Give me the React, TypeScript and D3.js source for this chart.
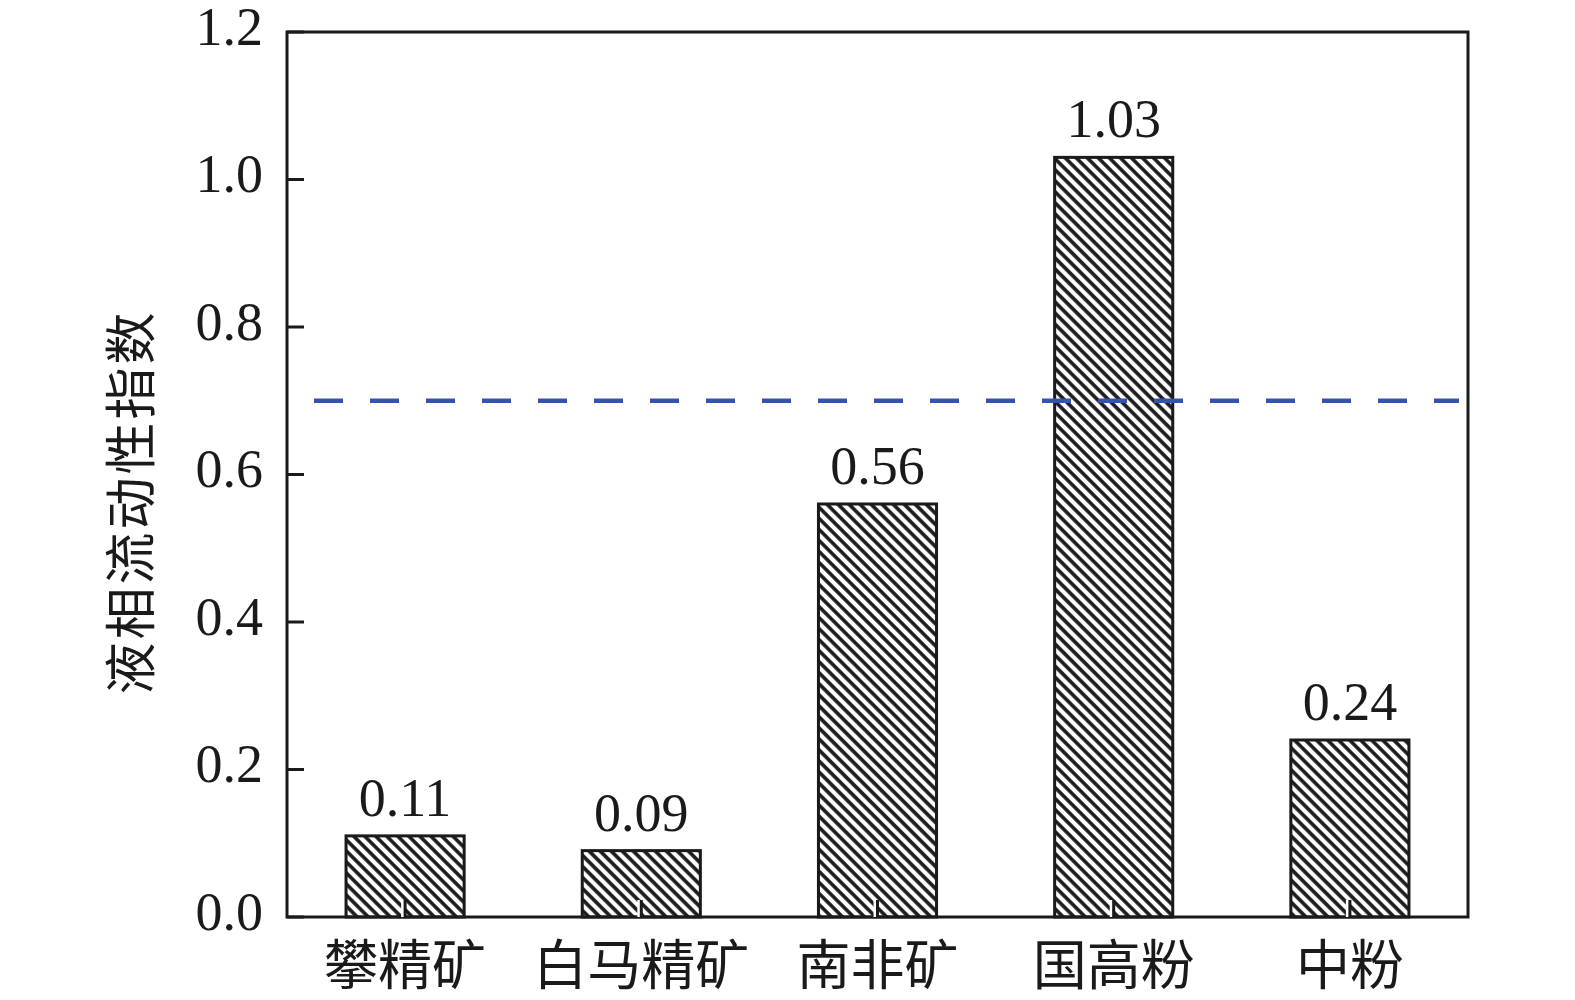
import React from "react";
import * as d3 from "d3";

const categories = ["攀精矿", "白马精矿", "南非矿", "国高粉", "中粉"];
const values = [0.11, 0.09, 0.56, 1.03, 0.24];
const valueLabels = ["0.11", "0.09", "0.56", "1.03", "0.24"];
const yTicks = [0, 0.2, 0.4, 0.6, 0.8, 1.0, 1.2];
const thresholdValue = 0.7;
const yTitle = "液相流动性指数";

const W = 1575;
const H = 1000;
const left = 287;
const right = 1468;
const top = 32;
const bottom = 917;

export default function App() {
  const x = d3
    .scaleBand<string>()
    .domain(categories)
    .range([left, right])
    .paddingInner(0.5)
    .paddingOuter(0.25);
  const y = d3.scaleLinear().domain([0, 1.2]).range([bottom, top]);
  const serif = "'Liberation Serif', 'Times New Roman', serif";
  const cjk = "'Noto Sans CJK SC', sans-serif";
  const tickLen = 17;

  return (
    <svg
      width={W}
      height={H}
      style={{ position: "absolute", left: 0, top: 0, background: "#fff" }}
    >
      <defs>
        <pattern
          id="hatch"
          patternUnits="userSpaceOnUse"
          width={7.8}
          height={7.8}
          patternTransform="rotate(-45)"
        >
          <rect width={7.8} height={7.8} fill="#fff" />
          <line x1={2} y1={-1} x2={2} y2={9} stroke="#1a1a1a" strokeWidth={3.6} />
        </pattern>
      </defs>

      {categories.map((c, i) => (
        <rect
          key={c}
          x={x(c)!}
          y={y(values[i])}
          width={x.bandwidth()}
          height={y(0) - y(values[i])}
          fill="url(#hatch)"
          stroke="#1a1a1a"
          strokeWidth={3}
        />
      ))}

      {categories.map((c, i) => (
        <text
          key={"v" + c}
          x={x(c)! + x.bandwidth() / 2}
          y={y(values[i]) - 20}
          textAnchor="middle"
          fontFamily={serif}
          fontSize={54}
          fill="#1a1a1a"
        >
          {valueLabels[i]}
        </text>
      ))}

      <line
        x1={314}
        x2={1459}
        y1={y(thresholdValue)}
        y2={y(thresholdValue)}
        stroke="#3653a8"
        strokeWidth={4.5}
        strokeDasharray="29,27"
      />

      <rect
        x={left}
        y={top}
        width={right - left}
        height={bottom - top}
        fill="none"
        stroke="#1a1a1a"
        strokeWidth={3}
      />

      {yTicks.map((t) => (
        <g key={"yt" + t}>
          <line
            x1={left}
            x2={left + tickLen}
            y1={y(t)}
            y2={y(t)}
            stroke="#1a1a1a"
            strokeWidth={3}
          />
          <text
            x={left - 24}
            y={y(t)}
            dy="0.24em"
            textAnchor="end"
            fontFamily={serif}
            fontSize={54}
            fill="#1a1a1a"
          >
            {t.toFixed(1)}
          </text>
        </g>
      ))}

      {categories.map((c) => {
        const cx = x(c)! + x.bandwidth() / 2;
        return (
          <g key={"xt" + c}>
            <line
              x1={cx - 2.5}
              x2={cx - 2.5}
              y1={bottom}
              y2={bottom - tickLen}
              stroke="#fff"
              strokeWidth={3}
            />
            <line
              x1={cx}
              x2={cx}
              y1={bottom}
              y2={bottom - tickLen}
              stroke="#1a1a1a"
              strokeWidth={3}
            />
            <text
              x={cx}
              y={985}
              textAnchor="middle"
              fontFamily={cjk}
              fontSize={54}
              fill="#1a1a1a"
            >
              {c}
            </text>
          </g>
        );
      })}

      <text
        transform={`translate(150, 502) rotate(-90)`}
        textAnchor="middle"
        fontFamily={cjk}
        fontSize={52}
        letterSpacing={3}
        fill="#1a1a1a"
      >
        {yTitle}
      </text>
    </svg>
  );
}
